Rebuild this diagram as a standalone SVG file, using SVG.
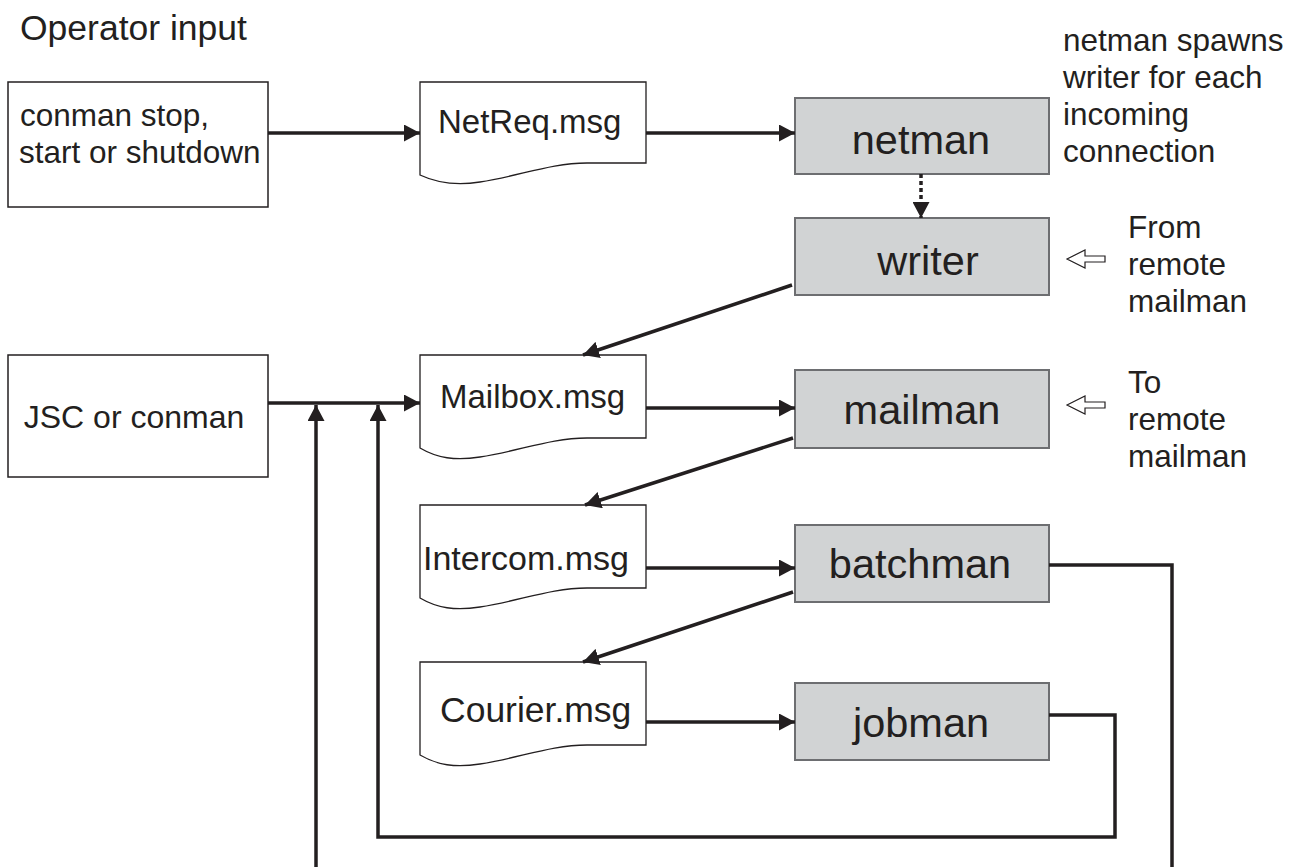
<svg xmlns="http://www.w3.org/2000/svg" width="1294" height="867" viewBox="0 0 1294 867">
<defs>
<style>
text{font-family:"Liberation Sans",Arial,sans-serif;fill:#231f20}
.wbox{fill:#fff;stroke:#231f20;stroke-width:1.5}
.doc{fill:#fff;stroke:#231f20;stroke-width:1.3}
.gbox{fill:#d1d3d4;stroke:#6d6e71;stroke-width:2}
.lbl{font-size:31.5px}
.doct{font-size:33px}
.gt{font-size:41.5px}
.con{fill:none;stroke:#231f20;stroke-width:3.5}
.dot{fill:none;stroke:#231f20;stroke-width:3.5;stroke-dasharray:4 3}
.hollow{fill:#fff;stroke:#231f20;stroke-width:1.2}
</style>
<marker id="ah" viewBox="0 0 16 17" refX="16" refY="8.5" markerWidth="16" markerHeight="17" markerUnits="userSpaceOnUse" orient="auto">
<path d="M0,0 L16,8.5 L0,17 Z" fill="#231f20"/>
</marker>
</defs>
<rect width="1294" height="867" fill="#fff"/>

<text x="20" y="40" style="font-size:35.5px">Operator input</text>

<g id="operator-box">
<rect class="wbox" x="8" y="82" width="260" height="125"/>
<text class="lbl" x="20" y="126">conman stop,</text>
<text class="lbl" x="19" y="163">start or shutdown</text>
</g>

<g id="netreq">
<path class="doc" d="M420,82 H646 V163 H587 C550,163 520,176 480,182 C455,186 437,183 420,175 Z"/>
<text class="doct" x="438" y="133">NetReq.msg</text>
</g>

<g id="netman">
<rect class="gbox" x="795" y="98" width="254" height="76"/>
<text class="gt" x="921" y="154" text-anchor="middle">netman</text>
</g>

<g id="netman-note">
<text class="lbl" x="1063" y="51">netman spawns</text>
<text class="lbl" x="1063" y="88">writer for each</text>
<text class="lbl" x="1063" y="125">incoming</text>
<text class="lbl" x="1063" y="162">connection</text>
</g>

<g id="writer">
<rect class="gbox" x="795" y="218" width="254" height="77"/>
<text class="gt" x="928" y="275" text-anchor="middle">writer</text>
</g>

<g id="from-remote">
<path class="hollow" d="M1067,259 L1085,250 V256 H1105 V262 H1085 V268 Z"/>
<text class="lbl" x="1128" y="238">From</text>
<text class="lbl" x="1128" y="275">remote</text>
<text class="lbl" x="1128" y="312">mailman</text>
</g>

<g id="jsc-box">
<rect class="wbox" x="8" y="355" width="260" height="122"/>
<text x="134" y="428" text-anchor="middle" style="font-size:32px">JSC or conman</text>
</g>

<g id="mailbox">
<path class="doc" d="M420,355 H646 V438 H587 C550,438 520,451 480,457 C455,461 437,458 420,448 Z"/>
<text class="doct" x="440" y="408">Mailbox.msg</text>
</g>

<g id="mailman">
<rect class="gbox" x="795" y="370" width="254" height="78"/>
<text class="gt" x="922" y="424" text-anchor="middle">mailman</text>
</g>

<g id="to-remote">
<path class="hollow" d="M1067,405 L1085,396 V402 H1105 V408 H1085 V414 Z"/>
<text class="lbl" x="1128" y="393">To</text>
<text class="lbl" x="1128" y="430">remote</text>
<text class="lbl" x="1128" y="467">mailman</text>
</g>

<g id="intercom">
<path class="doc" d="M420,505 H646 V588 H587 C550,588 520,601 480,607 C455,611 437,608 420,598 Z"/>
<text x="423" y="570" style="font-size:34px">Intercom.msg</text>
</g>

<g id="batchman">
<rect class="gbox" x="795" y="525" width="254" height="77"/>
<text class="gt" x="920" y="578" text-anchor="middle">batchman</text>
</g>

<g id="courier">
<path class="doc" d="M420,662 H646 V745 H587 C550,745 520,758 480,764 C455,768 437,765 420,755 Z"/>
<text x="440" y="722" style="font-size:35.5px">Courier.msg</text>
</g>

<g id="jobman">
<rect class="gbox" x="795" y="683" width="254" height="77"/>
<text class="gt" x="921" y="737" text-anchor="middle">jobman</text>
</g>

<g id="connectors">
<line class="con" x1="268" y1="133" x2="420" y2="133" marker-end="url(#ah)"/>
<line class="con" x1="646" y1="133" x2="795" y2="133" marker-end="url(#ah)"/>
<line class="dot" x1="921" y1="174" x2="921" y2="218" marker-end="url(#ah)"/>
<line class="con" x1="792" y1="285" x2="583" y2="355" marker-end="url(#ah)"/>
<line class="con" x1="268" y1="403" x2="420" y2="403" marker-end="url(#ah)"/>
<line class="con" x1="646" y1="408" x2="795" y2="408" marker-end="url(#ah)"/>
<line class="con" x1="793" y1="438" x2="585" y2="505" marker-end="url(#ah)"/>
<line class="con" x1="646" y1="568" x2="795" y2="568" marker-end="url(#ah)"/>
<line class="con" x1="793" y1="592" x2="583" y2="662" marker-end="url(#ah)"/>
<line class="con" x1="646" y1="722" x2="795" y2="722" marker-end="url(#ah)"/>
<polyline class="con" points="1049,715 1115,715 1115,837 378,837 378,405" marker-end="url(#ah)"/>
<polyline class="con" points="1049,565 1172,565 1172,867"/>
<line class="con" x1="316" y1="867" x2="316" y2="405" marker-end="url(#ah)"/>
</g>
</svg>
